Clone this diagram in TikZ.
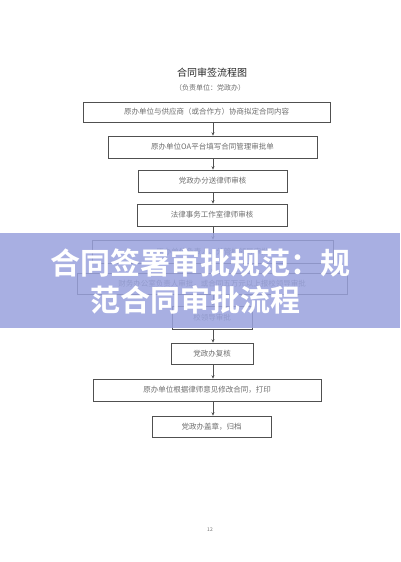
\documentclass[tikz,border=0pt]{standalone}
\usepackage{fontspec}
\setmainfont{Noto Sans CJK SC}
\newfontfamily\bannerfont{Noto Sans CJK SC Bold}
\usetikzlibrary{arrows.meta}
\definecolor{txtgray}{RGB}{110,110,110}
\definecolor{linegray}{RGB}{80,80,80}
\definecolor{bandblue}{RGB}{153,162,221}
\tikzset{
  flowbox/.style={draw=linegray, line width=0.6pt, fill=white, inner sep=0pt,
    minimum height=#1, text=txtgray, font=\fontsize{7.5}{8}\selectfont},
  flowbox/.default=22pt,
  flowarrow/.style={draw=linegray, line width=0.6pt, -{Stealth[length=3.5pt,width=3pt]}},
  bannertext/.style={text=white, font=\bannerfont\fontsize{30}{32}\selectfont, inner sep=0pt}
}
\begin{document}
\begin{tikzpicture}[x=1pt,y=-1pt]
\useasboundingbox (0,0) rectangle (400,562);
\fill[white] (0,0) rectangle (400,562);
% title
\node[text=black!85, font=\fontsize{10}{11}\selectfont] (title) at (212,73) {合同审签流程图};
\node[text=txtgray, font=\fontsize{7}{8}\selectfont] (sub) at (210,88) {（负责单位：党政办）};
% boxes
\node[flowbox=20pt, minimum width=247pt] (b1) at (206.5,112) {原办单位与供应商（或合作方）协商拟定合同内容};
\node[flowbox, minimum width=209pt] (b2) at (212.5,147) {原办单位OA平台填写合同管理审批单};
\node[flowbox, minimum width=149pt] (b3) at (212.5,181) {党政办分送律师审核};
\node[flowbox, minimum width=150pt] (b4) at (212,215) {法律事务工作室律师审核};
\node[flowbox=23pt, minimum width=241pt] (b5) at (212.5,251.5) {原办单位负责人、分管校领导审批};
\node[flowbox=21pt, minimum width=270pt] (b6) at (212,283.5) {财务办公室负责人审批，或合同五万元以上报校领导审批};
\node[flowbox=23pt, minimum width=80pt] (b7) at (212,317.5) {校领导审批};
\node[flowbox=21pt, minimum width=82pt] (b8) at (212,353.5) {党政办复核};
\node[flowbox, minimum width=228pt] (b9) at (207,390) {原办单位根据律师意见修改合同，打印};
\node[flowbox=21pt, minimum width=119pt] (b10) at (211.5,426.5) {党政办盖章，归档};
% arrows
\coordinate (ax) at (213,0);
\foreach \a/\b in {b1/b2,b2/b3,b3/b4,b4/b5,b5/b6,b6/b7,b7/b8,b8/b9,b9/b10}
  \draw[flowarrow] (\a.south -| ax) -- (\b.north -| ax);
% page number
\node[text=txtgray, font=\fontsize{5}{6}\selectfont] (pg) at (210,530) {12};
% banner
\fill[bandblue, fill opacity=0.85] (0,233) rectangle (400,328);
\node[bannertext] (l1) at (200,263) {合同签署审批规范：规};
\node[bannertext] (l2) at (195,300) {范合同审批流程};
\end{tikzpicture}
\end{document}
